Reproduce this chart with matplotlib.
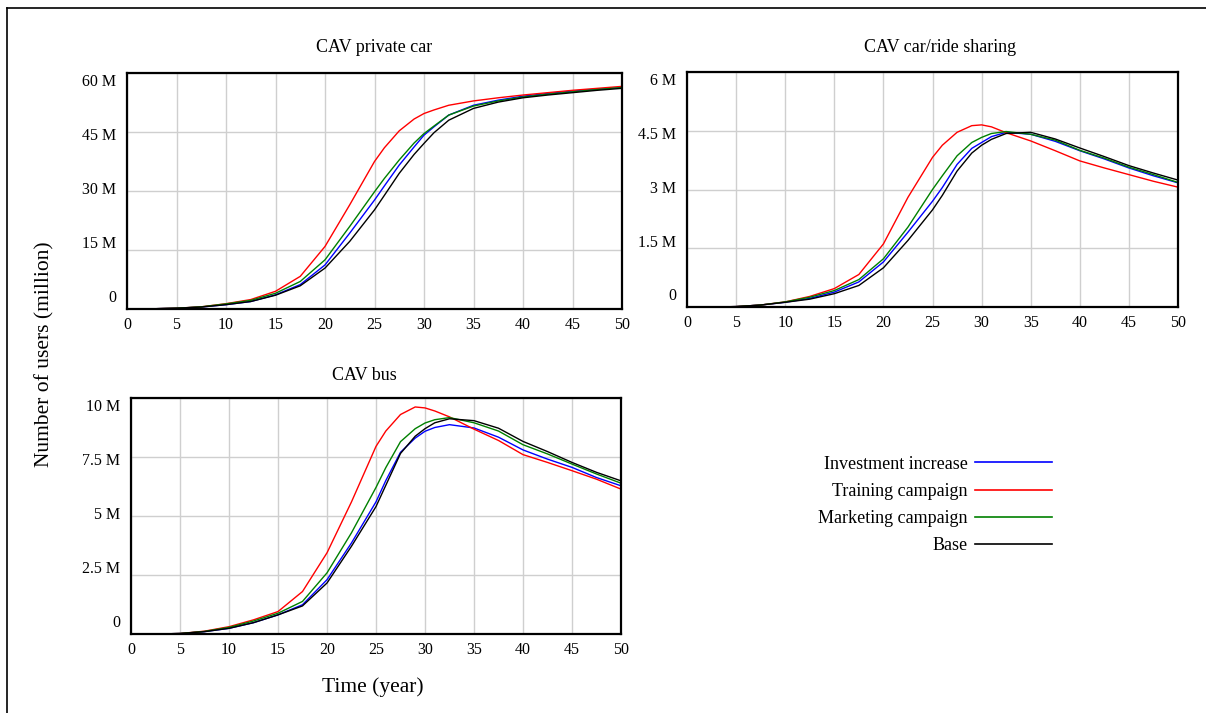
import matplotlib
matplotlib.use("Agg")
import matplotlib.pyplot as plt
from matplotlib.lines import Line2D

plt.rcParams['font.family'] = ['Liberation Serif', 'DejaVu Serif']

# ---------------- data ----------------
years = [0, 2.5, 5, 7.5, 10, 12.5, 15, 17.5, 20, 22.5, 25, 26, 27.5, 29, 30, 31, 32.5, 35,
         37.5, 40, 42.5, 45, 47.5, 50]

series_names = ["Investment increase", "Training campaign", "Marketing campaign", "Base"]
series_colors = ["#0000ff", "#ff0000", "#008000", "#000000"]

# CAV private car (million users)
private_investment = [0, 0.05, 0.2, 0.5, 1.1, 1.9, 3.6, 6.2, 11.2, 19.3, 27.7, 31.3, 36.6, 41.2, 44.2, 46.3,
                      49.3, 51.8, 53.1, 54.1, 54.8, 55.4, 55.9, 56.3]
private_training = [0, 0.05, 0.2, 0.55, 1.35, 2.4, 4.5, 8.3, 15.9, 26.5, 37.5, 41.0, 45.3, 48.3, 49.7, 50.6,
                    51.8, 52.9, 53.7, 54.4, 55.0, 55.6, 56.1, 56.6]
private_marketing = [0, 0.05, 0.2, 0.55, 1.3, 2.2, 4.0, 7.0, 12.5, 21.0, 29.8, 33.2, 37.9, 42.2, 44.6, 46.5,
                     49.3, 51.6, 52.9, 53.9, 54.6, 55.2, 55.8, 56.3]
private_base = [0, 0.05, 0.2, 0.5, 1.1, 1.9, 3.5, 5.9, 10.4, 17.2, 25.2, 28.9, 34.5, 39.3, 42.1, 44.8,
                48.0, 51.0, 52.6, 53.7, 54.4, 55.0, 55.6, 56.1]

# CAV car/ride sharing (million users)
sharing_investment = [0, 0.0, 0.01, 0.05, 0.12, 0.22, 0.38, 0.64, 1.15, 1.91, 2.70, 3.05, 3.64, 4.05, 4.20,
                      4.35, 4.46, 4.41, 4.23, 3.99, 3.78, 3.55, 3.35, 3.17]
sharing_training = [0, 0.0, 0.01, 0.05, 0.13, 0.27, 0.47, 0.83, 1.61, 2.80, 3.82, 4.13, 4.46, 4.63, 4.65,
                    4.60, 4.45, 4.24, 3.99, 3.73, 3.55, 3.38, 3.21, 3.06]
sharing_marketing = [0, 0.0, 0.01, 0.05, 0.13, 0.25, 0.42, 0.70, 1.23, 2.04, 3.00, 3.35, 3.86, 4.20, 4.33,
                     4.43, 4.48, 4.41, 4.26, 4.00, 3.80, 3.57, 3.38, 3.18]
sharing_base = [0, 0.0, 0.01, 0.05, 0.12, 0.20, 0.34, 0.55, 1.00, 1.70, 2.48, 2.85, 3.47, 3.93, 4.13,
                4.28, 4.43, 4.46, 4.29, 4.06, 3.84, 3.61, 3.42, 3.24]

# CAV bus (million users)
bus_investment = [0, 0.0, 0.02, 0.1, 0.24, 0.48, 0.81, 1.24, 2.30, 3.86, 5.60, 6.50, 7.70, 8.30, 8.59,
                  8.75, 8.87, 8.73, 8.34, 7.80, 7.41, 7.06, 6.63, 6.28]
bus_training = [0, 0.0, 0.02, 0.12, 0.31, 0.60, 0.95, 1.80, 3.44, 5.60, 7.95, 8.60, 9.30, 9.62, 9.58,
                9.45, 9.20, 8.68, 8.20, 7.60, 7.27, 6.92, 6.56, 6.14]
bus_marketing = [0, 0.0, 0.02, 0.11, 0.28, 0.55, 0.88, 1.38, 2.59, 4.29, 6.21, 7.05, 8.15, 8.70, 8.94,
                 9.08, 9.17, 8.95, 8.60, 8.02, 7.63, 7.20, 6.78, 6.39]
bus_base = [0, 0.0, 0.02, 0.1, 0.24, 0.48, 0.81, 1.19, 2.16, 3.72, 5.40, 6.30, 7.65, 8.38, 8.70,
            8.95, 9.12, 9.04, 8.72, 8.16, 7.73, 7.27, 6.85, 6.49]

x_ticks = [0, 5, 10, 15, 20, 25, 30, 35, 40, 45, 50]
private_yticks = [0, 15, 30, 45, 60]
private_ylabels = ["0", "15 M", "30 M", "45 M", "60 M"]
sharing_yticks = [0, 1.5, 3, 4.5, 6]
sharing_ylabels = ["0", "1.5 M", "3 M", "4.5 M", "6 M"]
bus_yticks = [0, 2.5, 5, 7.5, 10]
bus_ylabels = ["0", "2.5 M", "5 M", "7.5 M", "10 M"]

# ---------------- figure ----------------
W, H = 1206, 713
fig = plt.figure(figsize=(W / 100, H / 100), dpi=100)


def px_rect(left, right, top, bottom):
    return [left / W, 1 - bottom / H, (right - left) / W, (bottom - top) / H]


def make_panel(rect, title, title_x, title_y, yticks, ylabels, data):
    ax = fig.add_axes(rect)
    for vals, c in zip(data, series_colors):
        ax.plot(years, vals, color=c, lw=1.0, solid_joinstyle='round')
    ax.set_xlim(0, 50)
    ax.set_ylim(yticks[0], yticks[-1])
    ax.set_xticks(x_ticks)
    ax.set_xticklabels([str(t) for t in x_ticks], fontsize=11.5)
    ax.set_yticks(yticks)
    ax.set_yticklabels([])
    ax.tick_params(length=0, pad=6)
    ax.grid(True, color="#cfcfcf", lw=1.0)
    ax.set_axisbelow(True)
    for s in ax.spines.values():
        s.set_linewidth(1.6)
        s.set_color("black")
    # y labels spread between top and bottom (Vensim style)
    n = len(ylabels)
    for i, lab in enumerate(ylabels):
        frac = 0.045 + i * (0.962 - 0.045) / (n - 1)
        ax.text(-0.022, frac, lab, transform=ax.transAxes, ha="right", va="center", fontsize=11.5)
    fig.text(title_x / W, 1 - title_y / H, title, ha="center", va="center", fontsize=13)
    return ax


make_panel(px_rect(127, 622, 73, 309), "CAV private car", 374, 47,
           private_yticks, private_ylabels,
           [private_investment, private_training, private_marketing, private_base])
make_panel(px_rect(687, 1178, 72, 307), "CAV car/ride sharing", 940, 47,
           sharing_yticks, sharing_ylabels,
           [sharing_investment, sharing_training, sharing_marketing, sharing_base])
make_panel(px_rect(131, 621, 398, 634), "CAV bus", 364, 376,
           bus_yticks, bus_ylabels,
           [bus_investment, bus_training, bus_marketing, bus_base])

fig.text(45 / W, 1 - 354 / H, "Number of users (million)", rotation=90, ha="center", va="center", fontsize=15.5)
fig.text(373 / W, 1 - 687 / H, "Time (year)", ha="center", va="center", fontsize=15.5)

# legend
handles = [Line2D([], [], color=c, lw=1.2) for c in series_colors]
fig.legend(handles, series_names, loc="center right", bbox_to_anchor=(1056 / W, 1 - 505 / H),
           frameon=False, markerfirst=False, fontsize=13, handlelength=4.3, handletextpad=0.4,
           labelspacing=0.57, borderpad=0.2, borderaxespad=0)

# outer frame
fig.add_artist(Line2D([7 / W, 1.0], [1 - 8 / H, 1 - 8 / H], transform=fig.transFigure, color="black", lw=1.2))
fig.add_artist(Line2D([7 / W, 7 / W], [1 - 8 / H, 0], transform=fig.transFigure, color="black", lw=1.2))

fig.savefig("out.png", dpi=100)
